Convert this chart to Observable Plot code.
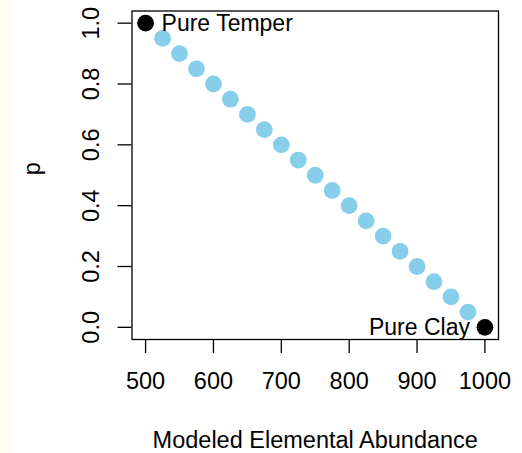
<!DOCTYPE html>
<html>
<head>
<meta charset="utf-8">
<script src="https://cdn.jsdelivr.net/npm/d3@7"></script>
<script src="https://cdn.jsdelivr.net/npm/@observablehq/plot@0.6"></script>
<style>
  html, body { margin: 0; padding: 0; background: #ffffff; }
  #wrap { position: relative; width: 522px; height: 453px; background: #ffffff; }
  #strip { position: absolute; left: 0; top: 0; width: 13px; height: 453px; background: #fffef3; }
  #chart { position: absolute; left: 0; top: 0; }
</style>
</head>
<body>
<div id="wrap"><div id="strip"></div><div id="chart"></div></div>
<script>
// Mixing model points (blue)
const abundance = [525, 550, 575, 600, 625, 650, 675, 700, 725, 750, 775, 800, 825, 850, 875, 900, 925, 950, 975];
const pValues   = [0.95, 0.90, 0.85, 0.80, 0.75, 0.70, 0.65, 0.60, 0.55, 0.50, 0.45, 0.40, 0.35, 0.30, 0.25, 0.20, 0.15, 0.10, 0.05];
// End members (black)
const endNames = ["Pure Temper", "Pure Clay"];
const endX = [500, 1000];
const endP = [1.0, 0.0];
// Tick labels
const xTicks = [500, 600, 700, 800, 900, 1000];
const yTicks = [0.0, 0.2, 0.4, 0.6, 0.8, 1.0];
const xTitle = "Modeled Elemental Abundance";
const yTitle = "p";

const mix = abundance.map((a, i) => ({x: a, p: pValues[i]}));
const ends = endX.map((a, i) => ({x: a, p: endP[i], name: endNames[i]}));

const font = "Liberation Sans, Arial, sans-serif";
const fs = 23.5;

const chart = Plot.plot({
  width: 522,
  height: 453,
  marginLeft: 131.5,
  marginRight: 24,
  marginTop: 10.5,
  marginBottom: 114,
  style: {fontFamily: font, fontSize: fs + "px", background: "transparent", color: "#000", overflow: "visible"},
  x: {domain: [480, 1020], ticks: xTicks},
  y: {domain: [-0.04, 1.04], ticks: yTicks},
  marks: [
    Plot.frame({stroke: "#000", strokeWidth: 1.3}),
    Plot.axisX(xTicks, {tickSize: 14, tickPadding: 19, fontSize: fs, strokeWidth: 1.3, label: null, tickFormat: d => String(d)}),
    Plot.axisY(yTicks, {tickSize: 14, strokeWidth: 1.3, label: null, text: null}),
    Plot.text(yTicks, {y: d => d, frameAnchor: "left", dx: -41, rotate: -90, text: d => d.toFixed(1), fontSize: fs, textAnchor: "middle", lineAnchor: "middle"}),
    Plot.text([xTitle], {frameAnchor: "bottom", dy: 101, text: d => d, fontSize: fs, lineAnchor: "middle"}),
    Plot.text([yTitle], {frameAnchor: "left", dx: -100, rotate: -90, text: d => d, fontSize: fs, lineAnchor: "middle"}),
    Plot.dot(mix, {x: "x", y: "p", r: 8.4, fill: "#87CEEB", stroke: null}),
    Plot.dot(ends, {x: "x", y: "p", r: 8.4, fill: "#000", stroke: null}),
    Plot.text(ends.filter(d => d.x < 750), {x: "x", y: "p", text: "name", fontSize: 23, lineAnchor: "middle", textAnchor: "start", dx: 16}),
    Plot.text(ends.filter(d => d.x >= 750), {x: "x", y: "p", text: "name", fontSize: 23, lineAnchor: "middle", textAnchor: "end", dx: -15})
  ]
});
document.getElementById("chart").appendChild(chart);
</script>
</body>
</html>
